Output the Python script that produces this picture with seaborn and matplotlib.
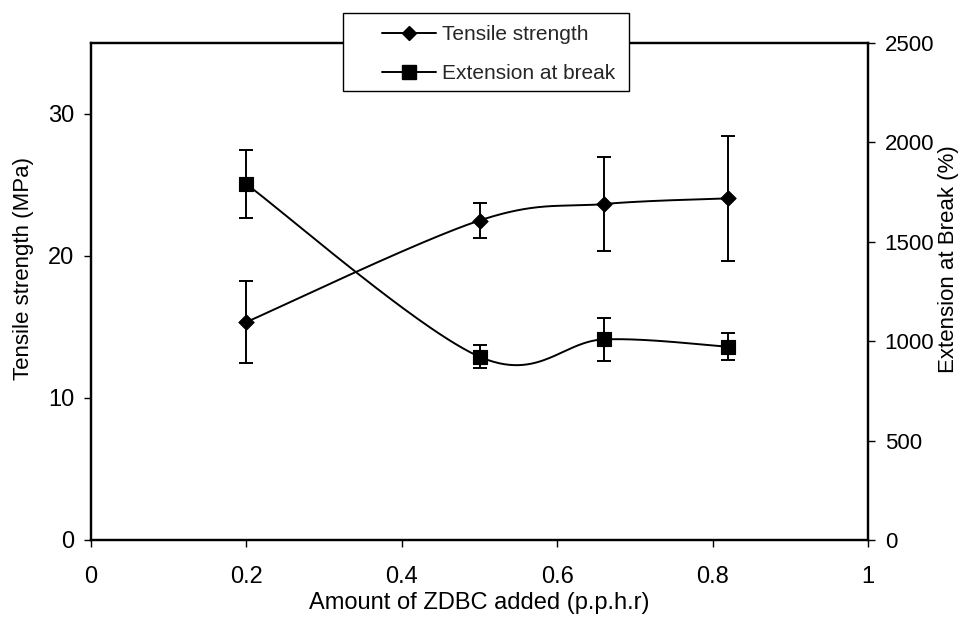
import numpy as np
import pandas as pd
import matplotlib
matplotlib.use("Agg")
import matplotlib.pyplot as plt
from matplotlib.lines import Line2D
from matplotlib.patches import Rectangle
import seaborn as sns

# ---- data ----
zdbc = [0.2, 0.5, 0.66, 0.82]
tensile = [15.35, 22.5, 23.66, 24.06]
tensile_err = [2.9, 1.2, 3.3, 4.4]
extension = [1790, 922, 1009, 972]
extension_err = [172, 58, 109, 67]

x_ticks = [0, 0.2, 0.4, 0.6, 0.8, 1]
x_tick_labels = ["0", "0.2", "0.4", "0.6", "0.8", "1"]
left_ticks = [0, 10, 20, 30]
right_ticks = [0, 500, 1000, 1500, 2000, 2500]

sns.set_theme(style="white")
plt.rcParams["font.family"] = ["Liberation Sans", "DejaVu Sans"]
FS_TICK = 17
FS_RTICK = 16
FS_XLAB = 17
FS_YLAB = 16
FS_LEG = 15


def smooth(xs, ys, n=60):
    """Excel-like smoothed line: Catmull-Rom as cubic Bezier segments."""
    P = np.column_stack([xs, ys]).astype(float)
    ext = np.vstack([P[0], P, P[-1]])
    out = []
    t = np.linspace(0, 1, n)[:, None]
    for i in range(len(P) - 1):
        p0, p1, p2, p3 = ext[i], ext[i + 1], ext[i + 2], ext[i + 3]
        c1 = p1 + (p2 - p0) / 6
        c2 = p2 - (p3 - p1) / 6
        seg = ((1 - t) ** 3) * p1 + 3 * ((1 - t) ** 2) * t * c1 + 3 * (1 - t) * t ** 2 * c2 + t ** 3 * p2
        out.append(seg if i == 0 else seg[1:])
    arr = np.vstack(out)
    return pd.DataFrame({"x": arr[:, 0], "y": arr[:, 1]})


fig = plt.figure(figsize=(9.63, 6.27), dpi=100)
ax = fig.add_axes([91 / 963, 87 / 627, 777 / 963, 497 / 627])
ax2 = ax.twinx()

lw = 1.4
# tensile strength (left axis)
ts_curve = smooth(zdbc, tensile)
sns.lineplot(data=ts_curve, x="x", y="y", ax=ax, color="black", lw=lw, sort=False, estimator=None)
ax.errorbar(zdbc, tensile, yerr=tensile_err, fmt="none", ecolor="black", elinewidth=lw, capsize=5, capthick=lw)
sns.scatterplot(x=zdbc, y=tensile, ax=ax, marker="D", s=62, color="black", edgecolor="black", zorder=5)

# extension at break (right axis)
ex_curve = smooth(zdbc, extension)
sns.lineplot(data=ex_curve, x="x", y="y", ax=ax2, color="black", lw=lw, sort=False, estimator=None)
ax2.errorbar(zdbc, extension, yerr=extension_err, fmt="none", ecolor="black", elinewidth=lw, capsize=5, capthick=lw)
sns.scatterplot(x=zdbc, y=extension, ax=ax2, marker="s", s=105, color="black", edgecolor="black", zorder=5)

ax.set_xlim(0, 1)
ax.set_ylim(0, 35)
ax2.set_ylim(0, 2500)
ax.set_xticks(x_ticks)
ax.set_xticklabels(x_tick_labels)
ax.set_yticks(left_ticks)
ax2.set_yticks(right_ticks)

ax.set_xlabel("Amount of ZDBC added (p.p.h.r)", fontsize=FS_XLAB, color="black")
ax.set_ylabel("Tensile strength (MPa)", fontsize=FS_YLAB, color="black")
ax2.set_ylabel("Extension at Break (%)", fontsize=FS_YLAB, color="black")
ax.xaxis.set_label_coords(0.5, -0.104)
ax.yaxis.set_label_coords(-0.0734, 0.546)
ax2.yaxis.set_label_coords(1.0901, 0.566)

for a in (ax, ax2):
    for s in a.spines.values():
        s.set_color("black")
        s.set_linewidth(1.6)
    a.tick_params(axis="both", which="major", direction="out", length=5, width=1,
                  color="black", labelsize=FS_TICK, labelcolor="black", pad=7)
ax.tick_params(axis="x", bottom=True, pad=13.5)
ax.tick_params(axis="y", left=True)
ax2.tick_params(axis="y", right=True, labelsize=FS_RTICK)

# legend box straddling the top of the plot area
fig.patches.append(Rectangle((343 / 963, 1 - 91 / 627), (629 - 343) / 963, (91 - 13) / 627,
                             transform=fig.transFigure, facecolor="white", edgecolor="black",
                             linewidth=1.0, zorder=3))
handles = [
    Line2D([], [], color="black", lw=lw, marker="D", markersize=7),
    Line2D([], [], color="black", lw=lw, marker="s", markersize=9.5),
]
fig.legend(handles, ["Tensile strength", "Extension at break"], loc="upper left",
           bbox_to_anchor=(372 / 963, 1 - 15 / 627), frameon=False, fontsize=FS_LEG,
           borderpad=0, handlelength=2.55, handletextpad=0.3, labelspacing=0.95)

fig.savefig("out.png", dpi=100)
